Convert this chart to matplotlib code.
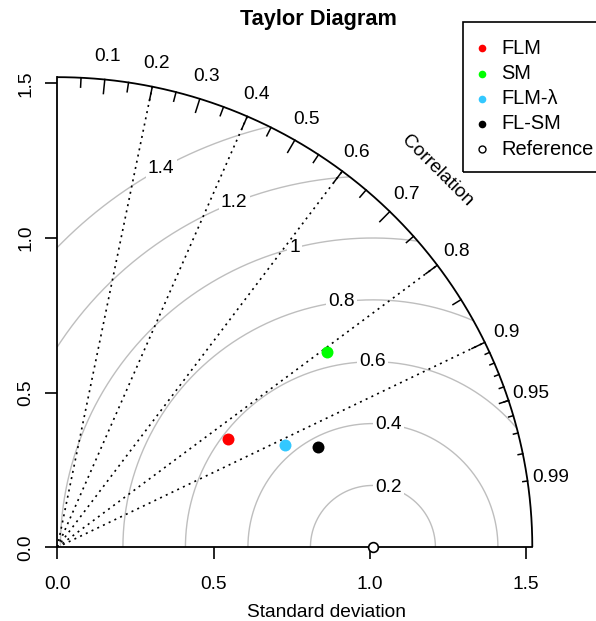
import numpy as np
import matplotlib
matplotlib.use('Agg')
import matplotlib.pyplot as plt
from matplotlib.patches import Rectangle

plt.rcParams['font.family'] = ['Liberation Sans', 'DejaVu Sans']

# data
model_names = ['FLM', 'SM', 'FLM-λ', 'FL-SM']
model_colors = ['#FF0000', '#00FF00', '#33C8FF', '#000000']
model_sd = [0.649, 1.070, 0.800, 0.895]
model_cor = [0.843, 0.807, 0.910, 0.932]
ref_sd = 1.01
max_sd = 1.52

sd_ticks = [0.0, 0.5, 1.0, 1.5]
corr_lines = [0.2, 0.4, 0.6, 0.8, 0.9]
corr_labels = [0.1, 0.2, 0.3, 0.4, 0.5, 0.6, 0.7, 0.8, 0.9, 0.95, 0.99]
gamma = [0.2, 0.4, 0.6, 0.8, 1.0, 1.2, 1.4]
gamma_text = ['0.2', '0.4', '0.6', '0.8', '1', '1.2', '1.4']

FS = 13.8
grey = '#BEBEBE'

fig = plt.figure(figsize=(5.96, 6.21), dpi=100)
lim = 1.72
ax = fig.add_axes([57.3 / 596, (621 - 547.3) / 621, lim * 312.5 / 596, lim * 309.3 / 621])
ax.set_xlim(0, lim)
ax.set_ylim(0, lim)
for s in ['top', 'right']:
    ax.spines[s].set_visible(False)
for s in ['left', 'bottom']:
    ax.spines[s].set_bounds(0, max_sd)
    ax.spines[s].set_linewidth(1.3)

ax.set_xticks(sd_ticks)
ax.set_yticks(sd_ticks)
ax.set_xticklabels(['%.1f' % t for t in sd_ticks])
ax.set_yticklabels(['%.1f' % t for t in sd_ticks], rotation=90, va='center')
ax.tick_params(axis='both', direction='out', length=8.6, width=1.2, labelsize=FS)
ax.tick_params(axis='x', pad=12)
ax.tick_params(axis='y', pad=8)
ax.set_xlabel('Standard deviation', fontsize=FS, labelpad=8)

# gamma (centred RMS) arcs
th = np.linspace(0, np.pi, 600)
label_ang = np.linspace(1.32, 2.076, len(gamma))
for g, gt, a in zip(gamma, gamma_text, label_ang):
    xc = ref_sd + g * np.cos(th)
    yc = g * np.sin(th)
    ok = (xc ** 2 + yc ** 2 <= max_sd ** 2) & (xc >= 0)
    xc = np.where(ok, xc, np.nan)
    yc = np.where(ok, yc, np.nan)
    ax.plot(xc, yc, color=grey, lw=1.0, zorder=1)
    ax.text(ref_sd + g * np.cos(a), g * np.sin(a), gt, fontsize=FS, ha='center', va='center',
            bbox=dict(facecolor='white', edgecolor='none', pad=1.5), zorder=2)

# correlation lines
for c in corr_lines:
    ax.plot([0, max_sd * c], [0, max_sd * np.sqrt(1 - c ** 2)], color='black',
            lw=1.2, linestyle=(0, (1.2, 2.6)), zorder=3)

# outer arc
ta = np.linspace(0, np.pi / 2, 300)
ax.plot(max_sd * np.cos(ta), max_sd * np.sin(ta), color='black', lw=1.3, zorder=3)

big = np.arccos(np.arange(0.1, 0.91, 0.1))
med = np.arccos(np.arange(0.05, 0.96, 0.1))
sml = np.arccos(np.arange(0.91, 0.995, 0.01))
for angs, f in [(big, 0.97), (med, 0.98), (sml, 0.99)]:
    for a in angs:
        ax.plot([max_sd * np.cos(a), f * max_sd * np.cos(a)],
                [max_sd * np.sin(a), f * max_sd * np.sin(a)], color='black', lw=1.1, zorder=3)

for c in corr_labels:
    a = np.arccos(c)
    ax.text(1.05 * max_sd * np.cos(a), 1.05 * max_sd * np.sin(a), str(c),
            fontsize=FS, ha='center', va='center', clip_on=False)
ax.text(0.8 * max_sd, 0.8 * max_sd, 'Correlation', rotation=-45, fontsize=FS,
        ha='center', va='center', rotation_mode='anchor')

# points
for sd, r, col in zip(model_sd, model_cor, model_colors):
    ax.plot(sd * r, sd * np.sqrt(1 - r ** 2), 'o', color=col, markersize=8.6,
            markeredgewidth=0, zorder=5, clip_on=False)
ax.plot(ref_sd, 0, 'o', markerfacecolor='white', markeredgecolor='black',
        markersize=7, markeredgewidth=1.2, zorder=5, clip_on=False)

fig.text(318.5 / 596, 1 - 20 / 621, 'Taylor Diagram', fontsize=15.7, fontweight='bold',
         ha='center', va='center')

# legend
fig.patches.append(Rectangle((462.7 / 596, 1 - 171.7 / 621), 140 / 596, 150 / 621,
                             transform=fig.transFigure, fill=False, edgecolor='black', lw=1.2))
leg_names = model_names + ['Reference']
leg_y = [48.3, 73.5, 98.7, 123.9, 149.1]
for i, nm in enumerate(leg_names):
    yy = 1 - leg_y[i] / 621
    if i < len(model_names):
        fig.lines.append(plt.Line2D([481.7 / 596], [yy], marker='o', color=model_colors[i],
                                    markersize=5.5, markeredgewidth=0, transform=fig.transFigure))
    else:
        fig.lines.append(plt.Line2D([481.7 / 596], [yy], marker='o', markerfacecolor='white',
                                    markeredgecolor='black', markersize=5, markeredgewidth=1,
                                    transform=fig.transFigure))
    fig.text(501 / 596, yy, nm, fontsize=14.4, ha='left', va='center')

fig.savefig('out.png', dpi=100)
